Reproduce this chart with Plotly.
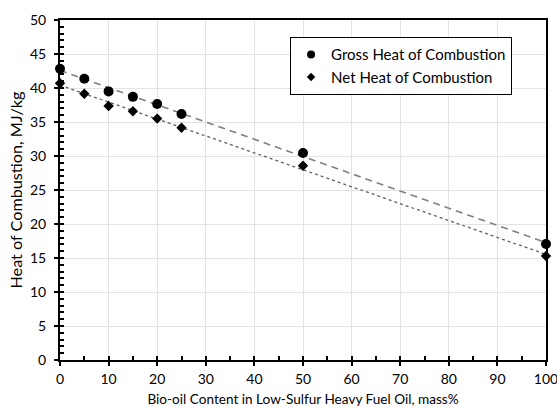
import numpy as np
import plotly.graph_objects as go

# Bio-oil content in the blend (mass%)
bio_oil = [0, 5, 10, 15, 20, 25, 50, 100]
# Heats of combustion (MJ/kg)
gross_heat = [42.84, 41.37, 39.5, 38.7, 37.65, 36.17, 30.44, 17.06]
net_heat = [40.7, 39.16, 37.35, 36.57, 35.5, 34.16, 28.57, 15.3]

x_ticks = list(range(0, 101, 10))
y_ticks = list(range(0, 51, 5))

FONT = "Lato"
GROSS_NAME = "Gross Heat of Combustion"
NET_NAME = "Net Heat of Combustion"

# linear trend lines across the full blend range
x_fit = np.array([0, 100])
g_fit = np.polyval(np.polyfit(bio_oil, gross_heat, 1), x_fit)
n_fit = np.polyval(np.polyfit(bio_oil, net_heat, 1), x_fit)

fig = go.Figure()
fig.add_trace(go.Scatter(x=x_fit, y=g_fit, mode="lines", showlegend=False,
                         line=dict(color="#808080", width=1.6, dash="7px,5px"), hoverinfo="skip"))
fig.add_trace(go.Scatter(x=x_fit, y=n_fit, mode="lines", showlegend=False,
                         line=dict(color="#606060", width=1.3, dash="dot"), hoverinfo="skip"))
fig.add_trace(go.Scatter(x=bio_oil, y=gross_heat, mode="markers", name=GROSS_NAME,
                         showlegend=False,
                         marker=dict(symbol="circle", size=10, color="black"), cliponaxis=False))
fig.add_trace(go.Scatter(x=bio_oil, y=net_heat, mode="markers", name=NET_NAME,
                         showlegend=False,
                         marker=dict(symbol="diamond", size=8, color="black"), cliponaxis=False))
# legend entries with smaller symbols
fig.add_trace(go.Scatter(x=[None], y=[None], mode="markers", name=GROSS_NAME,
                         marker=dict(symbol="circle", size=8, color="black")))
fig.add_trace(go.Scatter(x=[None], y=[None], mode="markers", name=NET_NAME,
                         marker=dict(symbol="diamond", size=6.5, color="black")))

fig.update_layout(
    width=557, height=407,
    margin=dict(l=60, r=11, t=20, b=47),
    paper_bgcolor="white", plot_bgcolor="white",
    font=dict(family=FONT, size=14, color="black"),
    legend=dict(x=0.473, y=0.95, xanchor="left", yanchor="top",
                bordercolor="black", borderwidth=1.2, bgcolor="white",
                font=dict(size=15), itemwidth=30, tracegroupgap=0),
    xaxis=dict(range=[0, 100], tickvals=x_ticks, ticks="outside", ticklen=4, tickwidth=2,
               tickcolor="black", showline=True, linecolor="black", linewidth=2, mirror=True,
               showgrid=True, gridcolor="#e3e3e3", gridwidth=1, zeroline=False,
               automargin=False, ticklabelstandoff=1, ticklabeloverflow="allow",
               title=dict(text="Bio-oil Content in Low-Sulfur Heavy Fuel Oil, mass%",
                          font=dict(size=13.6), standoff=10)),
    yaxis=dict(range=[0, 50], tickvals=y_ticks, ticks="outside", ticklen=4, tickwidth=2,
               tickcolor="black", showline=True, linecolor="black", linewidth=2, mirror=True,
               showgrid=True, gridcolor="#e3e3e3", gridwidth=1, zeroline=False,
               automargin=False, ticklabelstandoff=5, ticklabeloverflow="allow",
               title=dict(text="Heat of Combustion, MJ/kg", font=dict(size=16.2), standoff=3)),
    # inner tick marks (major and minor) drawn on overlay axes
    xaxis2=dict(overlaying="x", range=[0, 100], dtick=5, tick0=0, ticks="inside", ticklen=4,
                tickwidth=1.5, tickcolor="black", showticklabels=False, showgrid=False,
                zeroline=False, side="bottom", automargin=False),
    yaxis2=dict(overlaying="y", range=[0, 50], dtick=1, tick0=0, ticks="inside", ticklen=4,
                tickwidth=1.5, tickcolor="black", showticklabels=False, showgrid=False,
                zeroline=False, side="left", automargin=False),
)
fig.add_trace(go.Scatter(x=[None], y=[None], xaxis="x2", yaxis="y2", showlegend=False))

fig.write_html("out.html")
